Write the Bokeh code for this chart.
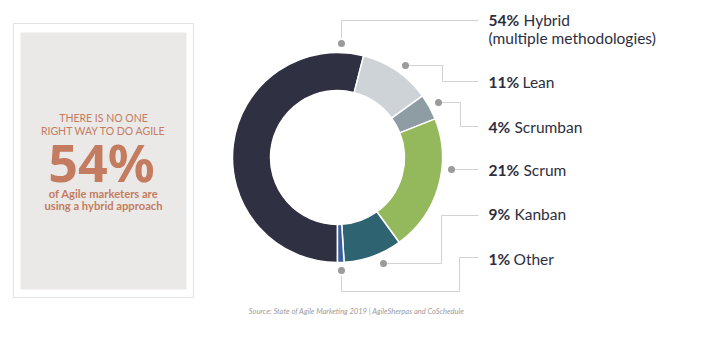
import math
from bokeh.plotting import figure
from bokeh.models import ColumnDataSource
from bokeh.core.properties import value
from bokeh.embed import file_html
from bokeh.resources import INLINE

# ---- data ----
categories = ["Hybrid", "Lean", "Scrumban", "Scrum", "Kanban", "Other"]
percents = [54, 11, 4, 21, 9, 1]
colors = ["#2f3042", "#cdd3d6", "#8e9ca4", "#94b95c", "#2e6471", "#3a5e9e"]
label_pcts = ["54%", "11%", "4%", "21%", "9%", "1%"]
label_names = ["Hybrid", "Lean", "Scrumban", "Scrum", "Kanban", "Other"]
hybrid_sub = "(multiple methodologies)"
panel_lines = ["THERE IS NO ONE", "RIGHT WAY TO DO AGILE"]
panel_big = "54%"
panel_sub = ["of Agile marketers are", "using a hybrid approach"]
source_note = "Source: State of Agile Marketing 2019 | AgileSherpas and CoSchedule"

W, H = 707, 337
def Y(y):
    return H - y

p = figure(width=W, height=H, x_range=(0, W), y_range=(0, H),
           output_backend="svg", toolbar_location=None, min_border=0)
p.axis.visible = False
p.grid.visible = False
p.outline_line_color = None
p.background_fill_color = "white"
p.border_fill_color = "white"

# ---- left panel ----
p.quad(left=13, right=193, top=Y(23), bottom=Y(297), fill_color="white",
       line_color="#e3e3e3", line_width=1.2)
p.quad(left=20, right=186, top=Y(32), bottom=Y(289), fill_color="#ebe9e8",
       line_color=None)
salmon = "#c47c60"
p.text(x=[103, 103], y=[Y(117), Y(130)], text=panel_lines, text_font=value("Lato"),
       text_font_size="10.5px", text_color=salmon, text_align="center",
       text_baseline="middle")
p.text(x=[101], y=[Y(161)], text=[panel_big], text_font=value("Noto Sans"),
       text_font_size="52px", text_font_style="bold", text_color=salmon,
       text_align="center", text_baseline="middle")
p.text(x=[103, 103], y=[Y(193), Y(205)], text=panel_sub, text_font=value("Lato"),
       text_font_size="11.2px", text_font_style="bold", text_color=salmon,
       text_align="center", text_baseline="middle")

# ---- donut ----
cx, cy = 337, Y(157)
starts, ends = [], []
cum = 0.5
for v in percents:
    s = cum
    e = cum + v / 100.0
    starts.append(math.pi / 2 - 2 * math.pi * s)
    ends.append(math.pi / 2 - 2 * math.pi * e)
    cum = e
src = ColumnDataSource(dict(start=starts, end=ends, color=colors, cat=categories))
p.annular_wedge(x=cx, y=cy, inner_radius=67, outer_radius=105,
                start_angle="start", end_angle="end", direction="clock",
                fill_color="color", line_color="white", line_width=1.5, source=src)

# ---- leader lines ----
leaders = [
    [(341, 38), (341, 20), (478, 20)],
    [(405, 65), (442, 65), (442, 81), (478, 81)],
    [(438, 102), (460, 102), (460, 126), (478, 126)],
    [(451, 169), (478, 169)],
    [(383, 263), (441, 263), (441, 215), (478, 215)],
    [(341, 275), (341, 291), (459, 291), (459, 257), (478, 257)],
]
dots = [(341, 43), (405, 65), (438, 102), (451, 169), (383, 263), (341, 270)]
p.multi_line(xs=[[pt[0] for pt in l] for l in leaders],
             ys=[[Y(pt[1]) for pt in l] for l in leaders],
             line_color="#d2d2d2", line_width=1)
p.scatter(x=[d[0] for d in dots], y=[Y(d[1]) for d in dots], size=7,
          fill_color="#9b9b9b", line_color=None)

# ---- labels ----
label_y = [19, 81, 126, 169, 213, 258]
name_x = [523, 522, 514, 523, 514, 513]
dark = "#2d2e3d"
p.text(x=[488] * 6, y=[Y(v) for v in label_y], text=label_pcts,
       text_font=value("Lato"), text_font_size="15.5px", text_font_style="bold",
       text_color=dark, text_align="left", text_baseline="middle")
p.text(x=name_x, y=[Y(v) for v in label_y], text=label_names,
       text_font=value("Lato"), text_font_size="15.5px",
       text_color=dark, text_align="left", text_baseline="middle")
p.text(x=[488], y=[Y(37)], text=[hybrid_sub], text_font=value("Lato"),
       text_font_size="15.5px", text_color=dark, text_align="left",
       text_baseline="middle")

# ---- source ----
p.text(x=[356], y=[Y(311)], text=[source_note], text_font=value("Lato"),
       text_font_size="7.5px", text_font_style="italic", text_color="#9c9c9c",
       text_align="center", text_baseline="middle")

open("out.html", "w").write(file_html(p, INLINE))
